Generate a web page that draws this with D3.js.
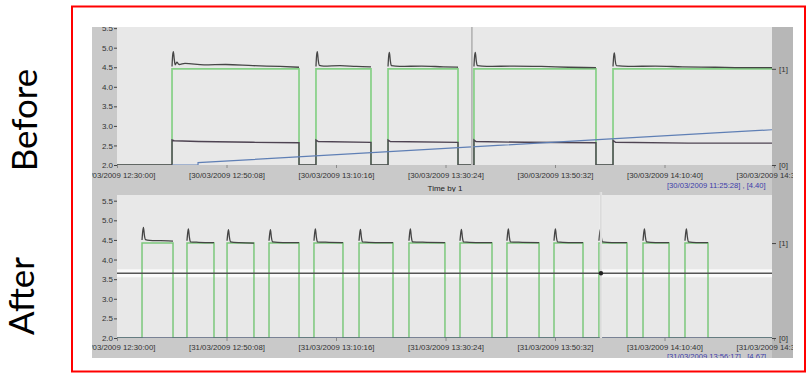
<!DOCTYPE html>
<html><head><meta charset="utf-8">
<script src="https://cdn.jsdelivr.net/npm/d3@7"></script>
<style>body{margin:0;background:#fff}svg{display:block}</style>
</head><body><svg id="c" width="807" height="375"></svg>
<script>
// ---------- DATA ----------
const topDate = "30/03/2009", bottomDate = "31/03/2009";
const xTickTimes = ["12:30:00","12:50:08","13:10:16","13:30:24","13:50:32","14:10:40","14:30:48"];
const xDomainTimes = ["12:30:00","14:30:48"];
const yTicks = [2.0,2.5,3.0,3.5,4.0,4.5,5.0,5.5];
const digitalTicks = [0,1];
const panelLabels = ["Before","After"];

// Before: dark voltage trace (one list per pulse)
const topDark = [
 [["12:40:07",4.52],["12:40:14",4.80],["12:40:22",4.90],["12:40:32",4.70],["12:40:42",4.56],["12:41:00",4.63],["12:41:25",4.57],["12:42:30",4.60],["12:46:00",4.56],["12:50:00",4.57],["12:55:00",4.54],["13:00:00",4.52],["13:03:28",4.50]],
 [["13:06:35",4.52],["13:06:42",4.80],["13:06:50",4.90],["13:07:00",4.68],["13:07:12",4.55],["13:08:00",4.53],["13:11:00",4.54],["13:14:00",4.52],["13:16:42",4.51]],
 [["13:19:50",4.52],["13:19:57",4.78],["13:20:05",4.88],["13:20:15",4.67],["13:20:27",4.54],["13:22:00",4.52],["13:26:00",4.53],["13:30:00",4.51],["13:32:42",4.50]],
 [["13:35:38",4.52],["13:35:45",4.78],["13:35:53",4.88],["13:36:03",4.67],["13:36:15",4.54],["13:38:00",4.52],["13:43:00",4.53],["13:48:00",4.52],["13:53:00",4.50],["13:58:04",4.49]],
 [["14:01:12",4.52],["14:01:19",4.77],["14:01:27",4.87],["14:01:37",4.66],["14:01:49",4.54],["14:04:00",4.52],["14:09:00",4.53],["14:14:00",4.51],["14:20:00",4.50],["14:25:00",4.49],["14:30:48",4.49]]
];
// Before: lower (purple) trace
const topLow = [["12:30:00",2.0],["12:40:07",2.0],["12:40:07",2.64],["12:40:30",2.62],["12:45:00",2.60],["12:55:00",2.58],["13:03:28",2.57],["13:03:28",2.0],
 ["13:06:35",2.0],["13:06:35",2.64],["13:07:00",2.60],["13:16:42",2.58],["13:16:42",2.0],
 ["13:19:50",2.0],["13:19:50",2.64],["13:20:15",2.60],["13:32:42",2.58],["13:32:42",2.0],
 ["13:35:38",2.0],["13:35:38",2.64],["13:36:00",2.60],["13:45:00",2.58],["13:58:04",2.57],["13:58:04",2.0],
 ["14:01:12",2.0],["14:01:12",2.63],["14:01:40",2.58],["14:15:00",2.56],["14:30:48",2.56]];
// Before: digital state (right axis)
const topState = [["12:30:00",0],["12:40:07",0],["12:40:07",1],["13:03:28",1],["13:03:28",0],["13:06:35",0],["13:06:35",1],["13:16:42",1],["13:16:42",0],
 ["13:19:50",0],["13:19:50",1],["13:32:42",1],["13:32:42",0],["13:35:38",0],["13:35:38",1],["13:58:04",1],["13:58:04",0],["14:01:12",0],["14:01:12",1],["14:30:48",1]];
// Before: blue ramp
const topRamp = [["12:40:07",2.0],["12:44:54",2.0],["12:44:54",2.06],["13:00:00",2.18],["13:20:00",2.34],["13:40:00",2.50],["14:00:00",2.66],["14:20:00",2.82],["14:30:48",2.905]];

// After: pulses
const bottomDark = [
 [["12:34:36",4.50],["12:34:44",4.72],["12:34:52",4.82],["12:35:02",4.62],["12:35:14",4.51],["12:36:00",4.49],["12:38:00",4.48],["12:40:18",4.47]],
 [["12:42:52",4.48],["12:43:00",4.68],["12:43:08",4.78],["12:43:18",4.58],["12:43:30",4.45],["12:45:00",4.44],["12:47:50",4.43]],
 [["12:50:14",4.48],["12:50:22",4.66],["12:50:30",4.76],["12:50:40",4.57],["12:50:52",4.45],["12:52:30",4.43],["12:55:11",4.42]],
 [["12:57:57",4.48],["12:58:05",4.66],["12:58:13",4.76],["12:58:23",4.57],["12:58:35",4.45],["13:00:30",4.43],["13:03:28",4.43]],
 [["13:06:13",4.48],["13:06:21",4.68],["13:06:29",4.78],["13:06:39",4.58],["13:06:51",4.45],["13:09:00",4.44],["13:11:33",4.43]],
 [["13:14:30",4.48],["13:14:38",4.67],["13:14:46",4.77],["13:14:56",4.57],["13:15:08",4.45],["13:17:30",4.43],["13:20:45",4.43]],
 [["13:23:41",4.48],["13:23:49",4.68],["13:23:57",4.78],["13:24:07",4.58],["13:24:19",4.45],["13:27:00",4.44],["13:30:18",4.43]],
 [["13:33:04",4.48],["13:33:12",4.67],["13:33:20",4.77],["13:33:30",4.57],["13:33:42",4.45],["13:36:00",4.43],["13:38:57",4.43]],
 [["13:41:42",4.48],["13:41:50",4.68],["13:41:58",4.78],["13:42:08",4.58],["13:42:20",4.45],["13:44:30",4.44],["13:47:36",4.43]],
 [["13:50:21",4.48],["13:50:29",4.68],["13:50:37",4.78],["13:50:47",4.58],["13:50:59",4.45],["13:53:00",4.43],["13:55:41",4.43]],
 [["13:58:37",4.48],["13:58:45",4.67],["13:58:53",4.77],["13:59:03",4.57],["13:59:15",4.45],["14:01:00",4.43],["14:03:46",4.43]],
 [["14:06:43",4.48],["14:06:51",4.68],["14:06:59",4.78],["14:07:09",4.58],["14:07:21",4.45],["14:09:00",4.43],["14:11:30",4.43]],
 [["14:14:26",4.48],["14:14:34",4.68],["14:14:42",4.78],["14:14:52",4.58],["14:15:04",4.45],["14:16:30",4.43],["14:18:40",4.43]]
];
const bottomOn  = ["12:34:36","12:42:52","12:50:14","12:57:57","13:06:13","13:14:30","13:23:41","13:33:04","13:41:42","13:50:21","13:58:37","14:06:43","14:14:26"];
const bottomOff = ["12:40:18","12:47:50","12:55:11","13:03:28","13:11:33","13:20:45","13:30:18","13:38:57","13:47:36","13:55:41","14:03:46","14:11:30","14:18:40"];
const bottomBase = [["12:30:00",2.0],["14:30:48",2.0]];
const bottomLevelLine = 3.65;

// cursors
const topCursorTime = "13:35:16";
const bottomCursorTime = "13:58:59";
const topReadout = "[30/03/2009 11:25:28] , [4.40]";
const bottomReadout = "[31/03/2009 13:56:17] , [4.67]";
const axisTitle = "Time by 1";

// ---------- DRAW ----------
const svg = d3.select("#c");
const parse = d3.timeParse("%d/%m/%Y %H:%M:%S");
const fmt = d3.timeFormat("[%d/%m/%Y %H:%M:%S]");
const FONT = "'Liberation Sans', Arial, sans-serif";

svg.append("rect").attr("x",72).attr("y",6.5).attr("width",733).attr("height",365)
   .attr("fill","#fff").attr("stroke","#f00").attr("stroke-width",2);

// left rotated labels
[[37,120,panelLabels[0]],[34,296,panelLabels[1]]].forEach(([x,y,t])=>{
  svg.append("text").attr("transform",`translate(${x},${y}) rotate(-90)`)
    .attr("text-anchor","middle").attr("font-family","Lato, 'Open Sans', sans-serif")
    .attr("font-size",35).attr("fill","#000").text(t);
});

const panels = [
 {date: topDate, outer:[92,27,793,192], plot:[117,27,772,165], yTop:[2.0,5.0,165,47.7], tickPad:4.3,
  readout: topReadout, readY:188, titleY:191, cursor: topCursorTime},
 {date: bottomDate, outer:[92,192,793,358], plot:[117,195,772,338], yTop:[2.0,5.5,338,200.7], tickPad:3.3,
  readout: bottomReadout, readY:359, titleY:363, cursor: bottomCursorTime}
];

panels.forEach((p,i)=>{
  const [ox0,oy0,ox1,oy1] = p.outer, [px0,py0,px1,py1] = p.plot;
  const g = svg.append("g");
  const cid = "clipO"+i, pid = "clipP"+i;
  const defs = svg.append("defs");
  defs.append("clipPath").attr("id",cid).append("rect").attr("x",ox0).attr("y",oy0).attr("width",ox1-ox0).attr("height",oy1-oy0);
  defs.append("clipPath").attr("id",pid).append("rect").attr("x",px0).attr("y",py0).attr("width",px1-px0).attr("height",py1-py0);
  g.append("rect").attr("x",ox0).attr("y",oy0).attr("width",ox1-ox0).attr("height",oy1-oy0).attr("fill","#c9c9c9");
  g.append("rect").attr("x",px1).attr("y",oy0).attr("width",ox1-px1).attr("height",oy1-oy0).attr("fill","#b7b7b7");
  g.append("rect").attr("x",px0).attr("y",py0).attr("width",px1-px0).attr("height",py1-py0).attr("fill","#e8e8e8");

  const x = d3.scaleTime().domain(xDomainTimes.map(t=>parse(p.date+" "+t))).range([117,774]);
  const y = d3.scaleLinear().domain([p.yTop[0],p.yTop[1]]).range([p.yTop[2],p.yTop[3]]);
  const onLevel = i===0 ? 4.46 : 4.42;
  const yd = d3.scaleLinear().domain([0,1]).range([y(2.0), y(onLevel)]);
  const T = t => parse(p.date+" "+t);
  const line = d3.line().x(d=>x(T(d[0]))).y(d=>y(d[1])).curve(d3.curveMonotoneX);
  const sline = d3.line().x(d=>x(T(d[0]))).y(d=>y(d[1]));
  const dline = d3.line().x(d=>x(T(d[0]))).y(d=>yd(d[1]));

  const axG = g.append("g").attr("clip-path",`url(#${cid})`);
  // x axis
  const xa = axG.append("g").attr("transform",`translate(0,${py1})`)
    .call(d3.axisBottom(x).tickValues(xTickTimes.map(T)).tickFormat(fmt).tickSize(3).tickPadding(p.tickPad));
  xa.select(".domain").remove();
  xa.selectAll("line").attr("stroke","#8a8a8a");
  xa.selectAll("text").attr("font-family",FONT).attr("font-size",7.8).attr("fill","#333");
  // y axis
  const ya = axG.append("g").attr("transform",`translate(${px0},0)`)
    .call(d3.axisLeft(y).tickValues(yTicks).tickFormat(d3.format(".1f")).tickSize(3).tickPadding(1));
  ya.select(".domain").remove();
  ya.selectAll("line").attr("stroke","#444");
  ya.selectAll("text").attr("font-family",FONT).attr("font-size",8).attr("fill","#333");
  // right digital axis
  const ra = axG.append("g").attr("transform",`translate(${px1},0)`)
    .call(d3.axisRight(yd).tickValues(digitalTicks).tickFormat(d=>`[${d}]`).tickSize(4).tickPadding(3));
  ra.select(".domain").remove();
  ra.selectAll("line").attr("stroke","#444");
  ra.selectAll("text").attr("font-family",FONT).attr("font-size",8).attr("fill","#333");
  // title + readout
  axG.append("text").attr("x",445).attr("y",p.titleY).attr("text-anchor","middle")
    .attr("font-family",FONT).attr("font-size",8).attr("fill","#222").text(axisTitle);
  axG.append("text").attr("x",667).attr("y",p.readY)
    .attr("font-family",FONT).attr("font-size",7.6).attr("fill","#3c3caa").text(p.readout);

  const pg = g.append("g").attr("clip-path",`url(#${pid})`);
  if(i===0){
    pg.append("path").attr("d",dline(topState)).attr("fill","none").attr("stroke","#86d086").attr("stroke-width",1.7);
    topDark.forEach(seg=>pg.append("path").attr("d",line(seg)).attr("fill","none").attr("stroke","#464646").attr("stroke-width",1.3));
    pg.append("path").attr("d",sline(topLow)).attr("fill","none").attr("stroke","#4e4352").attr("stroke-width",1.4);
    pg.append("path").attr("d",sline(topRamp)).attr("fill","none").attr("stroke","#5f7fb5").attr("stroke-width",1.2);
    const cx = x(T(p.cursor));
    pg.append("line").attr("x1",cx).attr("x2",cx).attr("y1",py0).attr("y2",py1).attr("stroke","#f4f4f4").attr("stroke-width",2);
    pg.append("line").attr("x1",cx).attr("x2",cx).attr("y1",py0).attr("y2",py1).attr("stroke","#6a6a6a").attr("stroke-width",0.8);
  } else {
    const ly = y(bottomLevelLine);
    pg.append("rect").attr("x",px0).attr("y",ly-4).attr("width",px1-px0).attr("height",8).attr("fill","#fafafa");
    const state = [["12:30:00",0]];
    bottomOn.forEach((on,k)=>{ state.push([on,0],[on,1],[bottomOff[k],1],[bottomOff[k],0]); });
    state.push(["14:30:48",0]);
    pg.append("path").attr("d",dline(state)).attr("fill","none").attr("stroke","#7cc87c").attr("stroke-width",1.5);
    bottomDark.forEach(seg=>pg.append("path").attr("d",line(seg)).attr("fill","none").attr("stroke","#444").attr("stroke-width",1.3));
    pg.append("path").attr("d",sline(bottomBase)).attr("fill","none").attr("stroke","#55607a").attr("stroke-width",1.4);
    pg.append("line").attr("x1",px0).attr("x2",px1).attr("y1",ly).attr("y2",ly).attr("stroke","#555").attr("stroke-width",1.4);
    const cx = x(T(p.cursor));
    g.append("line").attr("x1",cx).attr("x2",cx).attr("y1",oy0).attr("y2",py1).attr("stroke","#fbfbfb").attr("stroke-width",2.2);
    g.append("line").attr("x1",cx).attr("x2",cx).attr("y1",oy0).attr("y2",py1).attr("stroke","#9a9a9a").attr("stroke-width",0.6);
    g.append("circle").attr("cx",cx).attr("cy",ly).attr("r",2.2).attr("fill","#222");
  }
});
</script></body></html>
